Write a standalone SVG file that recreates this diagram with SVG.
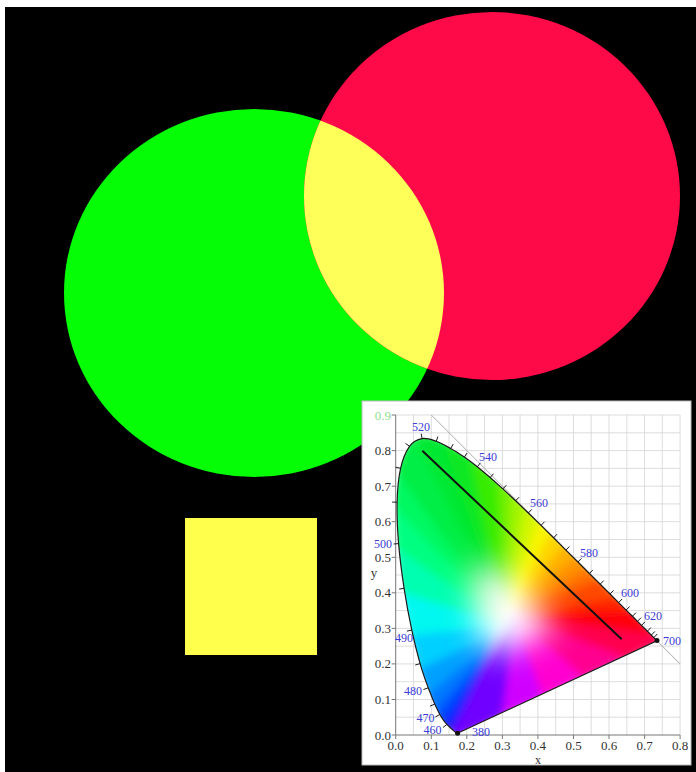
<svg xmlns="http://www.w3.org/2000/svg" xmlns:xlink="http://www.w3.org/1999/xlink" width="696" height="772" viewBox="0 0 696 772">
<style>
.w{stroke-width:10;stroke-linejoin:round}
.ax{font-family:"Liberation Serif","Times New Roman",serif;font-size:13px;fill:#333}
.axr{text-anchor:end}
.axm{text-anchor:middle}
.wl{font-family:"Liberation Serif","Times New Roman",serif;font-size:12px;fill:#3b3bd6;text-anchor:middle}
</style>
<defs>
<path id="locus" d="M457.6,733.2 L456.6,733.2 L454.1,731.1 L451.4,728.7 L446.9,724.4 L443.9,720.8 L439.8,714.5 L434.7,704.1 L428.2,687.8 C425.8,681.1 422.8,673.2 420.1,663.6 C417.4,654.0 414.5,642.7 411.8,630.1 C409.1,617.6 406.3,602.7 404.1,588.3 C401.9,573.9 399.8,558.0 398.6,543.6 C397.4,529.3 396.8,514.8 397.1,502.2 C397.4,489.7 398.5,477.6 400.6,468.3 C402.7,459.0 405.9,451.3 409.5,446.3 C413.1,441.4 417.6,439.4 422.1,438.6 C426.6,437.8 431.5,439.7 436.3,441.3 C441.1,443.0 446.0,445.9 450.7,448.5 C455.4,451.1 459.9,454.1 464.3,457.1 C468.7,460.2 473.0,463.4 477.3,466.8 L490.2,477.5 L502.9,488.9 L515.6,500.8 L528.3,513.0 L541.0,525.4 L553.6,537.8 L565.9,550.1 L577.9,562.0 L589.4,573.5 L600.2,584.2 L610.0,594.0 L618.6,602.6 L626.1,610.1 L632.4,616.3 L637.5,621.3 L641.5,625.4 L647.4,631.2 L651.3,635.1 L653.8,637.6 L655.2,639.0 L656.9,640.7 Z"/>
<clipPath id="clipLocus"><use xlink:href="#locus"/></clipPath>
<clipPath id="clipGreen"><ellipse cx="254" cy="293" rx="190" ry="184"/></clipPath>
<filter id="soft" x="-60%" y="-60%" width="220%" height="220%"><feGaussianBlur stdDeviation="16"/></filter>
<filter id="smooth" x="-10%" y="-10%" width="120%" height="120%"><feGaussianBlur stdDeviation="4"/></filter>
</defs>

<rect width="696" height="772" fill="#ffffff"/>
<rect id="background" x="5" y="7" width="691" height="765" fill="#000000"/>

<g id="circle-green"><ellipse cx="254" cy="293" rx="190" ry="184" fill="#05fd05"/></g>
<g id="circle-red"><ellipse cx="492" cy="196" rx="188" ry="184" fill="#ff0a48"/></g>
<g id="overlap-yellow" clip-path="url(#clipGreen)"><ellipse cx="492" cy="196" rx="188" ry="184" fill="#ffff5a"/></g>
<g id="square-yellow"><rect x="185" y="518" width="132" height="137" fill="#ffff4c"/></g>

<g id="chromaticity-chart">
<rect x="362" y="401" width="329" height="364" fill="#ffffff" stroke="#bbbbbb" stroke-width="1"/>
<path id="grid" fill="none" stroke="#d4d4d4" stroke-width="0.8" d="M413.5,415V735M431.3,415V735M449.0,415V735M466.8,415V735M484.6,415V735M502.4,415V735M520.1,415V735M537.9,415V735M555.7,415V735M573.5,415V735M591.2,415V735M609.0,415V735M626.8,415V735M644.6,415V735M662.3,415V735M680.1,415V735M395.7,717.2H680.1M395.7,699.5H680.1M395.7,681.7H680.1M395.7,663.9H680.1M395.7,646.1H680.1M395.7,628.4H680.1M395.7,610.6H680.1M395.7,592.8H680.1M395.7,575.0H680.1M395.7,557.3H680.1M395.7,539.5H680.1M395.7,521.7H680.1M395.7,503.9H680.1M395.7,486.2H680.1M395.7,468.4H680.1M395.7,450.6H680.1M395.7,432.8H680.1M395.7,415.0H680.1"/>
<path id="axes" fill="none" stroke="#777777" stroke-width="1" d="M395.7,415V735H680.1M391.7,735H395.7M391.7,699.5H395.7M391.7,663.9H395.7M391.7,628.4H395.7M391.7,592.8H395.7M391.7,557.3H395.7M391.7,521.7H395.7M391.7,486.2H395.7M391.7,450.6H395.7M391.7,415H395.7M395.7,735V739M431.3,735V739M466.8,735V739M502.4,735V739M537.9,735V739M573.5,735V739M609.0,735V739M644.6,735V739M680.1,735V739"/>
<path id="diagonal" d="M431.3,415L680.1,663.9" stroke="#aaaaaa" stroke-width="1" fill="none"/>

<g id="gamut" clip-path="url(#clipLocus)">
<g filter="url(#smooth)">
<polygon class="w" fill="#3000ff" stroke="#3000ff" points="510,620 457.6,733.2 456.6,733.2 454.1,731.1 451.4,728.7 446.9,724.4"/>
<polygon class="w" fill="#0828ff" stroke="#0828ff" points="510,620 446.9,724.4 443.9,720.8 439.8,714.5"/>
<polygon class="w" fill="#0050ff" stroke="#0050ff" points="510,620 439.8,714.5 434.7,704.1"/>
<polygon class="w" fill="#0078ff" stroke="#0078ff" points="510,620 434.7,704.1 428.2,687.8"/>
<polygon class="w" fill="#00a0ff" stroke="#00a0ff" points="510,620 428.2,687.8 420.1,663.6"/>
<polygon class="w" fill="#00d0ff" stroke="#00d0ff" points="510,620 420.1,663.6 411.8,630.1"/>
<polygon class="w" fill="#00f8f0" stroke="#00f8f0" points="510,620 411.8,630.1 404.1,588.3"/>
<polygon class="w" fill="#00ffb0" stroke="#00ffb0" points="510,620 404.1,588.3 398.6,543.6"/>
<polygon class="w" fill="#00ff80" stroke="#00ff80" points="510,620 398.6,543.6 397.1,502.2"/>
<polygon class="w" fill="#00f860" stroke="#00f860" points="510,620 397.1,502.2 400.6,468.3"/>
<polygon class="w" fill="#00ee44" stroke="#00ee44" points="510,620 400.6,468.3 409.5,446.3 422.1,438.6"/>
<polygon class="w" fill="#00e830" stroke="#00e830" points="510,620 422.1,438.6 436.3,441.3 450.7,448.5"/>
<polygon class="w" fill="#10e820" stroke="#10e820" points="510,620 450.7,448.5 464.3,457.1 477.3,466.8"/>
<polygon class="w" fill="#38ec00" stroke="#38ec00" points="510,620 477.3,466.8 490.2,477.5 502.9,488.9"/>
<polygon class="w" fill="#70f000" stroke="#70f000" points="510,620 502.9,488.9 515.6,500.8"/>
<polygon class="w" fill="#a0f400" stroke="#a0f400" points="510,620 515.6,500.8 528.3,513.0"/>
<polygon class="w" fill="#d0f600" stroke="#d0f600" points="510,620 528.3,513.0 541.0,525.4"/>
<polygon class="w" fill="#f8f400" stroke="#f8f400" points="510,620 541.0,525.4 553.6,537.8"/>
<polygon class="w" fill="#ffd400" stroke="#ffd400" points="510,620 553.6,537.8 565.9,550.1"/>
<polygon class="w" fill="#ffb000" stroke="#ffb000" points="510,620 565.9,550.1 577.9,562.0"/>
<polygon class="w" fill="#ff9000" stroke="#ff9000" points="510,620 577.9,562.0 589.4,573.5"/>
<polygon class="w" fill="#ff7000" stroke="#ff7000" points="510,620 589.4,573.5 600.2,584.2"/>
<polygon class="w" fill="#ff4800" stroke="#ff4800" points="510,620 600.2,584.2 610.0,594.0 618.6,602.6"/>
<polygon class="w" fill="#ff2400" stroke="#ff2400" points="510,620 618.6,602.6 626.1,610.1 632.4,616.3"/>
<polygon class="w" fill="#ff0010" stroke="#ff0010" points="510,620 632.4,616.3 637.5,621.3 641.5,625.4 647.4,631.2 651.3,635.1 653.8,637.6 655.2,639.0 656.9,640.7"/>
<polygon class="w" fill="#ff0050" stroke="#ff0050" points="510,620 656.9,640.7 617.0,659.2"/>
<polygon class="w" fill="#ff0090" stroke="#ff0090" points="510,620 617.0,659.2 577.2,677.7"/>
<polygon class="w" fill="#ff00d0" stroke="#ff00d0" points="510,620 577.2,677.7 537.3,696.2"/>
<polygon class="w" fill="#d000ff" stroke="#d000ff" points="510,620 537.3,696.2 497.5,714.7"/>
<polygon class="w" fill="#7000ff" stroke="#7000ff" points="510,620 497.5,714.7 457.6,733.2"/>
</g>
<g filter="url(#soft)"><use xlink:href="#locus" fill="#ffffff" transform="matrix(0.32,0,0,0.32,346.8,421.6)"/></g>
</g>
<use xlink:href="#locus" fill="none" stroke="#1a1a1a" stroke-width="1.2"/>
<path id="ticks" fill="none" stroke="#1a1a1a" stroke-width="1" d="M446.9,724.4L443.0,727.5M439.8,714.5L435.4,716.9M434.7,704.1L430.1,706.1M428.2,687.8L423.5,689.5M420.1,663.6L415.3,665.0M411.8,630.1L406.9,631.1M404.1,588.3L399.2,589.1M398.6,543.6L393.6,544.0M397.1,502.2L392.1,502.1M400.6,468.3L395.7,467.2M409.5,446.3L405.5,443.4M422.1,438.6L421.2,433.7M436.3,441.3L437.9,436.6M450.7,448.5L453.2,444.1M464.3,457.1L467.1,453.0M477.3,466.8L480.4,462.9M490.2,477.5L493.5,473.7M502.9,488.9L506.3,485.2M515.6,500.8L519.1,497.2M528.3,513.0L531.8,509.4M541.0,525.4L544.5,521.8M553.6,537.8L557.1,534.2M565.9,550.1L569.4,546.5M577.9,562.0L581.4,558.4M589.4,573.5L592.9,569.9M600.2,584.2L603.7,580.6M610.0,594.0L613.5,590.4M618.6,602.6L622.1,599.0M626.1,610.1L629.6,606.5M632.4,616.3L635.9,612.7M637.5,621.3L641.0,617.7M641.5,625.4L645.0,621.8M647.4,631.2L650.9,627.6M651.3,635.1L654.8,631.5M653.8,637.6L657.3,634.0"/>
<path id="mix-line" d="M422.3,450.7L621.7,639.3" stroke="#111111" stroke-width="2" fill="none"/>
<circle cx="657" cy="640.5" r="2.5" fill="#111111"/>
<circle cx="457.6" cy="733.2" r="2.5" fill="#111111"/>

<g id="axis-labels" class="ax">
<text class="axr" x="391" y="739.5">0.0</text>
<text class="axr" x="391" y="704">0.1</text>
<text class="axr" x="391" y="668.4">0.2</text>
<text class="axr" x="391" y="632.9">0.3</text>
<text class="axr" x="391" y="597.3">0.4</text>
<text class="axr" x="391" y="561.8">0.5</text>
<text class="axr" x="391" y="526.2">0.6</text>
<text class="axr" x="391" y="490.7">0.7</text>
<text class="axr" x="391" y="455.1">0.8</text>
<text class="axr" x="391" y="419.5" style="fill:#8fe08f">0.9</text>
<text class="axm" x="395.7" y="749.5">0.0</text>
<text class="axm" x="431.3" y="749.5">0.1</text>
<text class="axm" x="466.8" y="749.5">0.2</text>
<text class="axm" x="502.4" y="749.5">0.3</text>
<text class="axm" x="537.9" y="749.5">0.4</text>
<text class="axm" x="573.5" y="749.5">0.5</text>
<text class="axm" x="609.0" y="749.5">0.6</text>
<text class="axm" x="644.6" y="749.5">0.7</text>
<text class="axm" x="680.1" y="749.5">0.8</text>
<text class="axm" x="537.9" y="763.5" style="font-size:12px">x</text>
<text class="axm" x="374" y="577">y</text>
</g>
<g id="wavelength-labels" class="wl">
<text x="421" y="431">520</text>
<text x="488" y="461">540</text>
<text x="539" y="507">560</text>
<text x="589" y="557">580</text>
<text x="630" y="597">600</text>
<text x="653" y="620">620</text>
<text x="672" y="645">700</text>
<text x="383" y="548">500</text>
<text x="404" y="641.5">490</text>
<text x="413" y="695">480</text>
<text x="425.5" y="721.5">470</text>
<text x="432.5" y="734">460</text>
<text x="481" y="736">380</text>
</g>
</g>
</svg>
